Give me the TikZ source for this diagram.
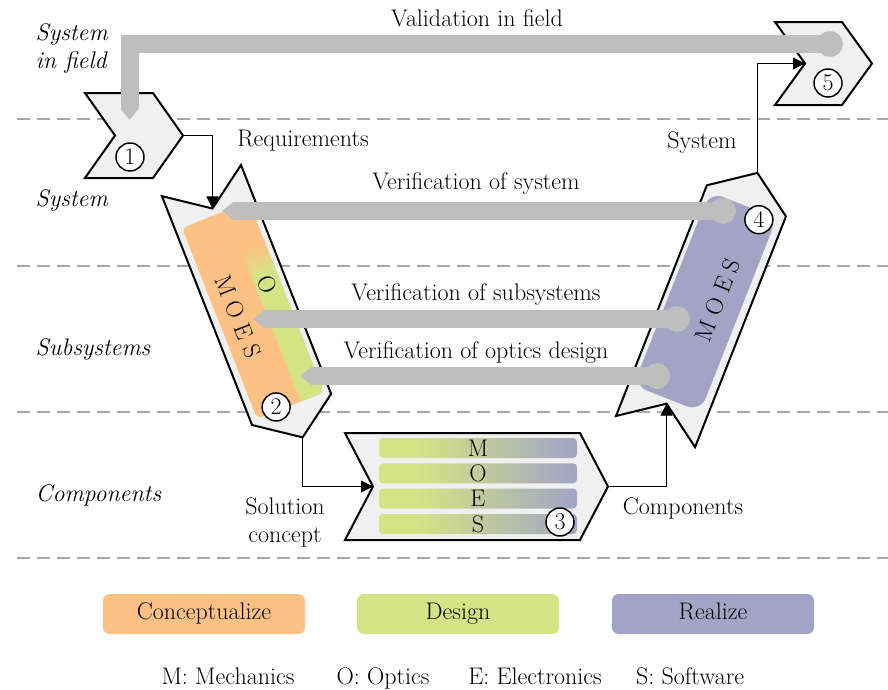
\documentclass[tikz,border=0pt]{standalone}
\usetikzlibrary{arrows.meta}

\definecolor{conc}{HTML}{FDC283}
\definecolor{desi}{HTML}{D4E384}
\definecolor{real}{HTML}{A3A3C5}
\definecolor{boxgray}{HTML}{F0F0F0}
\definecolor{bargray}{HTML}{BEBEBE}
\definecolor{dashgray}{HTML}{A8A8A8}
\pgfdeclarehorizontalshading{barshade}{100bp}{color(0bp)=(desi); color(35bp)=(desi); color(75bp)=(real); color(100bp)=(real)}

\tikzset{
  chev/.style={draw=black, line width=1.5pt, fill=boxgray, line join=miter},
  tierline/.style={dashgray, line width=1.5pt, dash pattern=on 9.5pt off 5.5pt},
  vbar/.style={bargray, line width=13.5pt, line join=miter, -{Triangle[length=8.5pt,width=13.5pt,line width=0pt]}},
  vdot/.style={circle, fill=bargray, inner sep=0pt, minimum size=19.5pt},
  num/.style={circle, draw=black, line width=1.1pt, fill=white, inner sep=0pt, minimum size=21pt},
  flow/.style={black, line width=0.75pt, -{Triangle[length=9pt,width=9pt]}},
  lvl/.style={font=\fontsize{18}{21}\selectfont\itshape, anchor=west, align=left},
  leg/.style={rounded corners=5pt, minimum width=151.5pt, minimum height=30pt, text height=2.25ex, text depth=0.22ex},
  key/.style={anchor=base},
}

\begin{document}
\begin{tikzpicture}[x=0.75pt,y=-0.75pt,font=\fontsize{18}{21}\selectfont]
\useasboundingbox (0,0) rectangle (888,689);

% levels
\foreach \y in {119,266,412,558}
  \draw[tierline] (17,\y) -- (888,\y);
\node[lvl] (tfieldname) at (31,48) {System\\in field};
\node[lvl] (tsysname) at (31,200) {System};
\node[lvl] (tsubname) at (31,349) {Subsystems};
\node[lvl] (tcompname) at (31,495) {Components};

% requirements
\draw[chev] (85,93) -- ++(68,0) -- ++(30,42.5) -- ++(-30,42.5) -- ++(-68,0) -- ++(30,-42.5) -- cycle;
\coordinate (c1tip) at (183,135.5);
\node[num] (n1) at (130,157) {1};

% system in field
\draw[chev] (775,22) -- ++(67,0) -- ++(30,41.5) -- ++(-30,41.5) -- ++(-67,0) -- ++(30,-41.5) -- cycle;
\coordinate (c5notch) at (805,63.5);
\node[num] (n5) at (828,83) {5};

% conceptualize / design
\begin{scope}[shift={(241,165)},rotate=-68.5]
  \draw[chev] (0,0) -- (246,0) -- (276,42.5) -- (246,85) -- (0,85) -- (30,42.5) -- cycle;
  \coordinate (lnotch) at (30,42.5);
  \coordinate (ltip) at (276,42.5);
  \fill[conc, rounded corners=4pt] (37,6) rectangle (242,78);
  \begin{scope}
    \clip[rounded corners=4pt] (37,6) rectangle (242,78);
    \foreach \i/\p in {0/6,1/19,2/31,3/44,4/56,5/69,6/81,7/94}
      \fill[desi!\p!conc] (80+4*\i,6) rectangle (84.5+4*\i,31);
    \fill[desi] (112,6) rectangle (242,31);
  \end{scope}
  \node[transform shape] (moesl) at (140,58) {M O E S};
  \node[transform shape] (optl) at (121,19) {O};
  \node[num] (n2) at (238,56) {2};
\end{scope}

% realize
\begin{scope}[shift={(616,416)},rotate=68.5]
  \draw[chev] (0,0) -- (248,0) -- (278,42.5) -- (248,85) -- (0,85) -- (30,42.5) -- cycle;
  \coordinate (rnotch) at (30,42.5);
  \coordinate (rtip) at (278,42.5);
  \fill[real, rounded corners=11pt] (35,5) rectangle (243,77);
  \node[transform shape] (moesr) at (145,52) {M O E S};
  \node[num] (n4) at (235,61) {4};
\end{scope}

% components
\draw[chev] (345,433) -- ++(235,0) -- ++(28,53.5) -- ++(-28,53.5) -- ++(-235,0) -- ++(28,-53.5) -- cycle;
\coordinate (bnotch) at (373,486.5);
\coordinate (btip) at (608,486.5);
\foreach \t/\l in {438/M,463.3/O,488.6/E,514/S} {
  \shade[shading=barshade, rounded corners=3pt] (379,\t) rectangle (577,\t+20);
  \node (bar\l) at (478,\t+10) {\l};
}
\node[num] (n3) at (560,522) {3};

% flow
\draw[flow] (c1tip) -| (lnotch);
\draw[flow] (ltip) |- (bnotch);
\draw[flow] (btip) -| (rnotch);
\draw[flow] (rtip) |- (c5notch);
\node (lreq) at (303,141) {Requirements};
\node[align=center] (lsol) at (285,522) {Solution\\concept};
\node (lcomp) at (683,508) {Components};
\node (lsyst) at (702,143) {System};

% validation and verification
\node[vdot] (vfield) at (830,44) {};
\coordinate (tfield) at (129.5,120);
\draw[vbar] (vfield.center) -| (tfield);
\node (lvalid) at (477,18) {Validation in field};

\node[vdot] (vsys) at (723,211) {};
\coordinate (tsys) at (222,211);
\draw[vbar] (vsys.center) -- (tsys);
\node (lvsys) at (476,184) {Verification of system};

\node[vdot] (vsub) at (677,319) {};
\coordinate (tsub) at (253,319);
\draw[vbar] (vsub.center) -- (tsub);
\node (lvsub) at (476,295) {Verification of subsystems};

\node[vdot] (vopt) at (657,376) {};
\coordinate (topt) at (300,376);
\draw[vbar] (vopt.center) -- (topt);
\node (lvopt) at (476,353) {Verification of optics design};

% legend
\node[leg, fill=conc] (lgconc) at (204,614) {Conceptualize};
\node[leg, fill=desi] (lgdes) at (458,614) {Design};
\node[leg, fill=real] (lgreal) at (713,614) {Realize};
\node[key] (keym) at (228,684) {M: Mechanics};
\node[key] (keyo) at (383,684) {O: Optics};
\node[key] (keye) at (535,684) {E: Electronics};
\node[key] (keys) at (690,684) {S: Software};
\end{tikzpicture}
\end{document}
